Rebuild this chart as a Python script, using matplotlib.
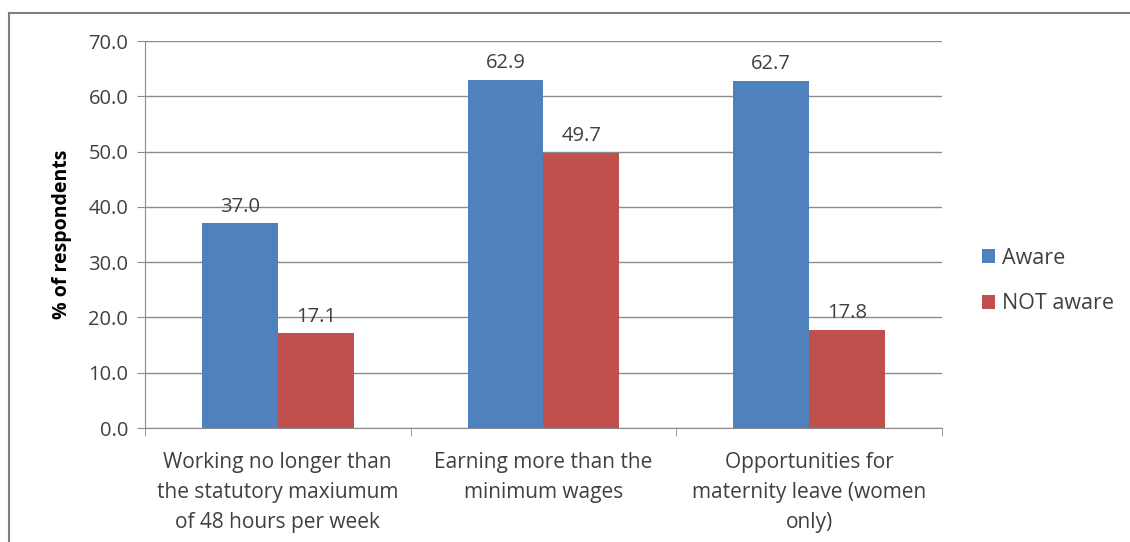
import numpy as np
import matplotlib.pyplot as plt
from matplotlib.lines import Line2D

categories = [
    "Working no longer than\nthe statutory maxiumum\nof 48 hours per week",
    "Earning more than the\nminimum wages",
    "Opportunities for\nmaternity leave (women\nonly)",
]
aware = [37.0, 62.9, 62.7]
not_aware = [17.1, 49.7, 17.8]
series_names = ["Aware", "NOT aware"]
yticks = [0, 10, 20, 30, 40, 50, 60, 70]

plt.rcParams["font.family"] = ["Open Sans", "DejaVu Sans"]
text_color = "#404040"

fig = plt.figure(figsize=(11.3, 5.42), dpi=100)
ax = fig.add_axes([0.1283, 0.2103, 0.7053, 0.714])

x = np.arange(len(categories))
width = 0.2857
b1 = ax.bar(x - width / 2, aware, width, color="#4F81BD", label=series_names[0], zorder=3)
b2 = ax.bar(x + width / 2, not_aware, width, color="#C0504D", label=series_names[1], zorder=3)

for bars in (b1, b2):
    for rect in bars:
        h = rect.get_height()
        ax.annotate(f"{h:.1f}", (rect.get_x() + rect.get_width() / 2, h),
                    xytext=(0, 5), textcoords="offset points",
                    ha="center", va="bottom", fontsize=14.5, color=text_color)

ax.set_xlim(-0.5, len(categories) - 0.5)
ax.set_ylim(0, 70)
ax.set_yticks(yticks)
ax.set_yticklabels([f"{v:.1f}" for v in yticks], fontsize=14.5, color=text_color)
ax.yaxis.grid(True, color="#8c8c8c", linewidth=1.0, zorder=0)

ax.set_xticks(x)
ax.set_xticklabels(categories, fontsize=15, color=text_color, linespacing=1.58)
ax.set_xticks(np.arange(len(categories) + 1) - 0.5, minor=True)
ax.tick_params(axis="x", which="major", length=0, pad=17)
ax.tick_params(axis="x", which="minor", length=6, color="#8c8c8c")
ax.tick_params(axis="y", length=6, color="#8c8c8c", pad=6)

for side in ("top", "right"):
    ax.spines[side].set_visible(False)
for side in ("left", "bottom"):
    ax.spines[side].set_color("#8c8c8c")

ax.set_ylabel("% of respondents", fontsize=14, fontweight="bold", color="black", labelpad=12)

ax.legend(loc="center left", bbox_to_anchor=(963 / 1130, 1 - 281 / 542),
          bbox_transform=fig.transFigure, frameon=False,
          fontsize=15.5, labelcolor=text_color, handlelength=0.6, handleheight=0.6,
          handletextpad=0.3, labelspacing=1.15)

# outer chart border (only top and left visible in the crop)
fig.add_artist(Line2D([9 / 1130, 1.0], [1 - 13 / 542, 1 - 13 / 542],
                      transform=fig.transFigure, color="#808080", linewidth=1.5))
fig.add_artist(Line2D([9 / 1130, 9 / 1130], [0.0, 1 - 13 / 542],
                      transform=fig.transFigure, color="#808080", linewidth=1.5))

fig.savefig("out.png", dpi=100)
